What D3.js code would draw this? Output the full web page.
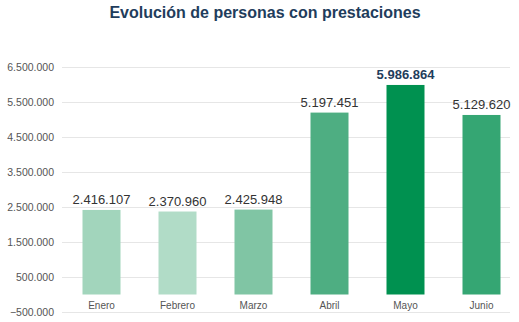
<!DOCTYPE html>
<html>
<head>
<meta charset="utf-8">
<script src="https://cdn.jsdelivr.net/npm/d3@7"></script>
<style>
  body { margin: 0; background: #fff; }
  text { font-family: "Liberation Sans", Arial, sans-serif; }
</style>
</head>
<body>
<div class="graph"></div>
<script>
// Datos del gráfico
const months = ["Enero", "Febrero", "Marzo", "Abril", "Mayo", "Junio"];
const personas = [2416107, 2370960, 2425948, 5197451, 5986864, 5129620];
const barColors = ["#a2d5bc", "#b1dcc7", "#80c5a4", "#4eae82", "#009150", "#35a673"];
const tickValues = [-500000, 500000, 1500000, 2500000, 3500000, 4500000, 5500000, 6500000];

const width = 519;
const height = 322;

const svg = d3.select(".graph")
    .append("svg")
    .attr("width", width)
    .attr("height", height);

// Título
svg.append("text")
    .attr("x", 265)
    .attr("y", 18)
    .attr("text-anchor", "middle")
    .style("font-size", "16px")
    .style("font-weight", "bold")
    .style("fill", "#1f3d5c")
    .text("Evolución de personas con prestaciones");

const formatNum = d => d3.format(",")(d).replace(/,/g, ".");

// Escalas
const yScale = d3.scaleLinear()
    .domain([-500000, 6500000])
    .range([312, 67]);

const xScale = d3.scaleBand()
    .domain(months)
    .range([63.5, 519.5])
    .paddingInner(0.5)
    .paddingOuter(0.25);

// Líneas de cuadrícula
svg.append("g")
    .selectAll("line")
    .data(tickValues)
    .join("line")
    .attr("x1", 62)
    .attr("x2", 510)
    .attr("y1", d => Math.round(yScale(d)) + 0.5)
    .attr("y2", d => Math.round(yScale(d)) + 0.5)
    .style("stroke", "#e6e6e6")
    .style("stroke-width", 1);

// Eje Y
const yAxis = svg.append("g")
    .attr("transform", "translate(54, 0)")
    .call(d3.axisLeft(yScale).tickValues(tickValues).tickFormat(formatNum).tickSize(0).tickPadding(0));
yAxis.select(".domain").remove();
yAxis.selectAll("text")
    .style("font-size", "10.5px")
    .style("fill", "#555")
    .style("font-family", "'Liberation Sans', Arial, sans-serif");

// Barras
svg.append("g")
    .selectAll("rect")
    .data(personas)
    .join("rect")
    .attr("x", (d, i) => xScale(months[i]))
    .attr("y", d => yScale(d))
    .attr("width", xScale.bandwidth())
    .attr("height", d => yScale(0) - yScale(d))
    .style("fill", (d, i) => barColors[i]);

// Etiquetas de valor
svg.append("g")
    .selectAll("text")
    .data(personas)
    .join("text")
    .attr("x", (d, i) => xScale(months[i]) + xScale.bandwidth() / 2)
    .attr("y", d => yScale(d) - 6)
    .attr("text-anchor", "middle")
    .style("font-size", "13px")
    .style("font-weight", (d, i) => i === 4 ? "bold" : "normal")
    .style("fill", (d, i) => i === 4 ? "#1f3d5c" : "#333")
    .text(d => formatNum(d));

// Etiquetas de categoría
svg.append("g")
    .selectAll("text")
    .data(months)
    .join("text")
    .attr("x", d => xScale(d) + xScale.bandwidth() / 2)
    .attr("y", 308.5)
    .attr("text-anchor", "middle")
    .style("font-size", "10px")
    .style("fill", "#555")
    .text(d => d);
</script>
</body>
</html>
